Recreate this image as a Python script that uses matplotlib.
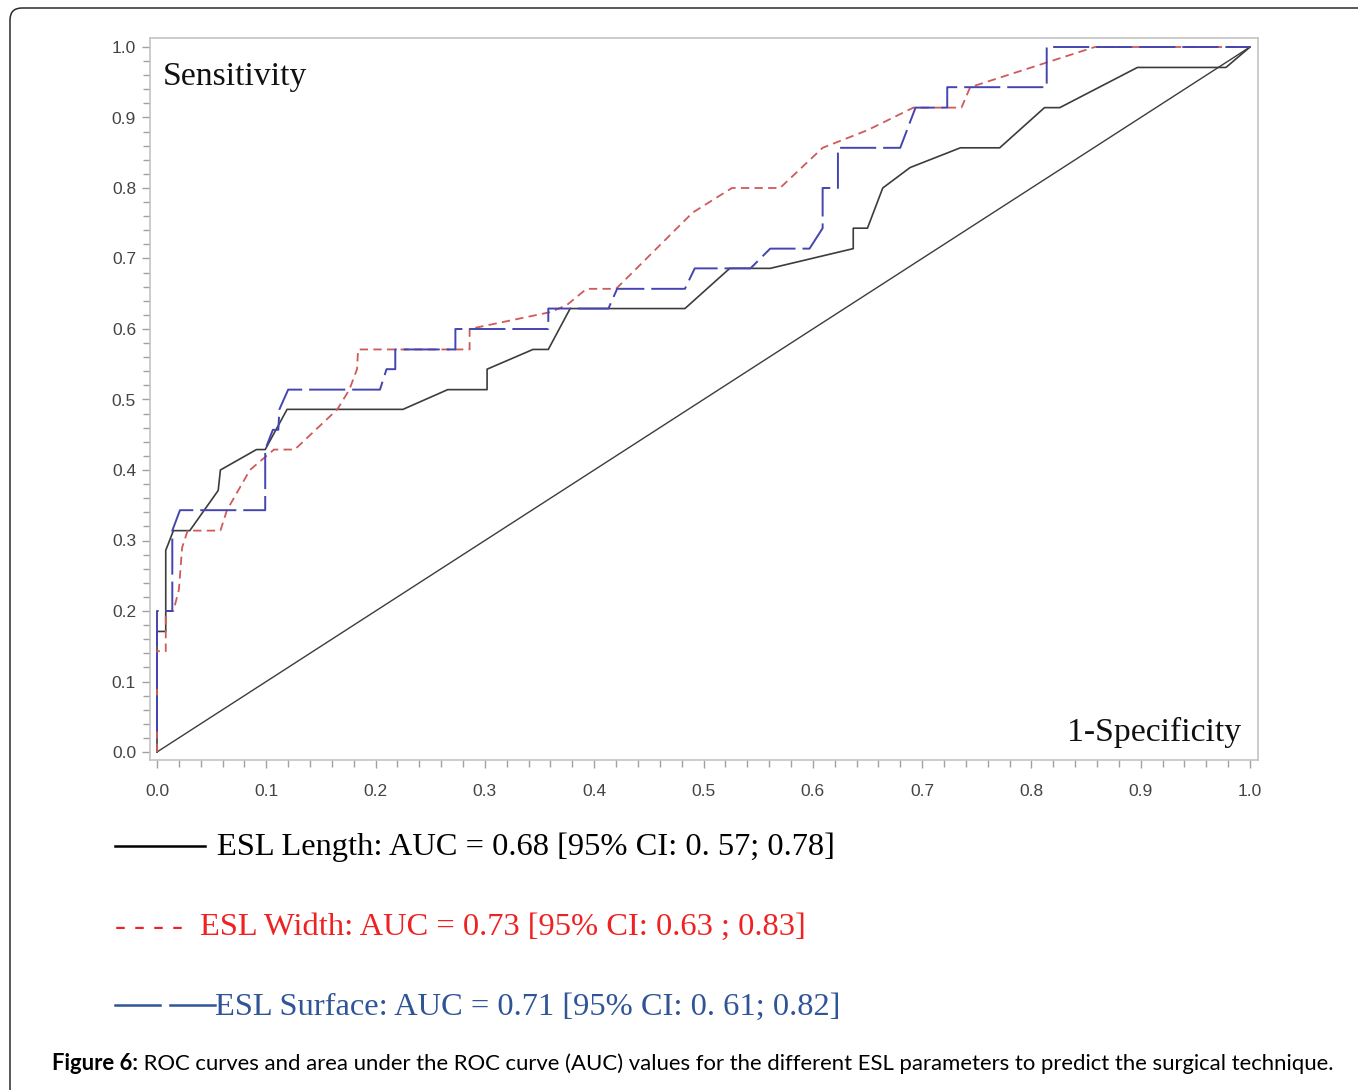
import matplotlib
matplotlib.use("Agg")
import matplotlib.pyplot as plt
from matplotlib.lines import Line2D
from matplotlib.patches import FancyBboxPatch
from matplotlib.ticker import MultipleLocator

# ROC points (1-specificity, sensitivity)
length_fpr = [0, 0, 0.008, 0.008, 0.015, 0.030, 0.056, 0.058, 0.091, 0.099, 0.119, 0.225,
              0.266, 0.302, 0.302, 0.344, 0.358, 0.378, 0.483, 0.524, 0.561, 0.637, 0.637,
              0.650, 0.664, 0.689, 0.735, 0.771, 0.812, 0.826, 0.897, 0.978, 1.0]
length_tpr = [0, 0.171, 0.171, 0.286, 0.314, 0.314, 0.371, 0.400, 0.429, 0.429, 0.486, 0.486,
              0.514, 0.514, 0.543, 0.571, 0.571, 0.629, 0.629, 0.686, 0.686, 0.714, 0.743,
              0.743, 0.800, 0.829, 0.857, 0.857, 0.914, 0.914, 0.971, 0.971, 1.0]

width_fpr = [0, 0, 0.008, 0.008, 0.015, 0.020, 0.023, 0.028, 0.058, 0.064, 0.085, 0.107,
             0.126, 0.165, 0.176, 0.183, 0.184, 0.286, 0.286, 0.360, 0.375, 0.393, 0.420,
             0.490, 0.526, 0.570, 0.609, 0.650, 0.692, 0.736, 0.744, 0.858, 1.0]
width_tpr = [0, 0.143, 0.143, 0.200, 0.200, 0.230, 0.290, 0.314, 0.314, 0.343, 0.400, 0.429,
             0.429, 0.486, 0.514, 0.543, 0.571, 0.571, 0.600, 0.624, 0.634, 0.657, 0.657,
             0.765, 0.800, 0.800, 0.857, 0.882, 0.914, 0.914, 0.943, 1.0, 1.0]

surface_fpr = [0, 0, 0.014, 0.014, 0.021, 0.099, 0.099, 0.106, 0.111, 0.112, 0.120, 0.204,
               0.210, 0.218, 0.218, 0.273, 0.273, 0.358, 0.358, 0.413, 0.421, 0.483, 0.492,
               0.543, 0.561, 0.597, 0.609, 0.609, 0.623, 0.623, 0.680, 0.694, 0.723, 0.723,
               0.814, 0.814, 1.0]
surface_tpr = [0.029, 0.200, 0.200, 0.314, 0.343, 0.343, 0.429, 0.457, 0.457, 0.486, 0.514, 0.514,
               0.543, 0.543, 0.571, 0.571, 0.600, 0.600, 0.629, 0.629, 0.657, 0.657, 0.686,
               0.686, 0.714, 0.714, 0.743, 0.800, 0.800, 0.857, 0.857, 0.914, 0.914, 0.943,
               0.943, 1.0, 1.0]

tick_vals = [0.0, 0.1, 0.2, 0.3, 0.4, 0.5, 0.6, 0.7, 0.8, 0.9, 1.0]

legend_texts = ["ESL Length: AUC = 0.68 [95% CI: 0. 57; 0.78]",
                "ESL Width: AUC = 0.73 [95% CI: 0.63 ; 0.83]",
                "ESL Surface: AUC = 0.71 [95% CI: 0. 61; 0.82]"]
caption_bold = "Figure 6:"
caption_rest = (" ROC curves and area under the ROC curve (AUC) values for the different "
                "ESL parameters to predict the surgical technique.")

W, H = 1358, 1090
plt.rcParams['lines.scale_dashes'] = False
fig = plt.figure(figsize=(W / 100, H / 100), dpi=100)

def fx(px):
    return px / W

def fy(py):
    return 1 - py / H

# outer rounded frame, open to the right and bottom
frame = FancyBboxPatch((10, -30), W + 60, H + 30 - 8, boxstyle="round,pad=0,rounding_size=12",
                       transform=None, fill=False, ec="#2b2b2b", lw=1.1)
fig.add_artist(frame)

ax = fig.add_axes([fx(150), fy(760), fx(1258) - fx(150), fy(38) - fy(760)])
ax.set_xlim(-7 / 1093, 1 + 8 / 1093)
ax.set_ylim(-8 / 705, 1 + 9 / 705)

ax.plot([0, 1], [0, 1], color="#3c3c3c", lw=1.0)
ax.plot(length_fpr, length_tpr, color="#3c3c3c", lw=1.2)
ax.plot(width_fpr, width_tpr, color="#cf5a5a", lw=1.3, dashes=(6, 3.8))
ax.plot(surface_fpr, surface_tpr, color="#4444b2", lw=1.4, dashes=(26, 5))

for s in ax.spines.values():
    s.set_color("#c4c4c4")
    s.set_linewidth(1.2)
ax.set_xticks(tick_vals)
ax.set_yticks(tick_vals)
ax.set_xticklabels([f"{v:.1f}" for v in tick_vals])
ax.set_yticklabels([f"{v:.1f}" for v in tick_vals])
ax.xaxis.set_minor_locator(MultipleLocator(0.02))
ax.yaxis.set_minor_locator(MultipleLocator(0.02))
ax.tick_params(which="both", direction="out", color="#a0a0a0", width=1.0)
ax.tick_params(which="major", length=6, labelsize=12.5, labelcolor="#444444", pad=11)
ax.tick_params(which="minor", length=5)
ax.tick_params(axis="y", which="major", pad=4)
for lab in ax.get_xticklabels() + ax.get_yticklabels():
    lab.set_family(["Liberation Sans", "DejaVu Sans"])

serif = ["Liberation Serif", "DejaVu Serif"]
ax.text(fx(163), fy(85), "Sensitivity", transform=fig.transFigure, family=serif,
        fontsize=24.2, color="#111111", va="baseline", ha="left")
ax.text(fx(1241), fy(741), "1-Specificity", transform=fig.transFigure, family=serif,
        fontsize=24.2, color="#111111", va="baseline", ha="right")

# legend block under the plot
fs = 23.4
fig.add_artist(Line2D([fx(115), fx(205)], [fy(846), fy(846)], color="black", lw=1.8))
fig.text(fx(217), fy(855), legend_texts[0], family=serif, fontsize=fs,
         color="black", va="baseline")

fig.text(fx(115), fy(935), "- - - -", family=serif, fontsize=fs, color="#ee2222", va="baseline")
fig.text(fx(200), fy(935), legend_texts[1], family=serif, fontsize=fs,
         color="#ee2222", va="baseline")

fig.add_artist(Line2D([fx(115), fx(160)], [fy(1005), fy(1005)], color="#2f5597", lw=1.8))
fig.add_artist(Line2D([fx(170), fx(215)], [fy(1005), fy(1005)], color="#2f5597", lw=1.8))
fig.text(fx(215), fy(1015), legend_texts[2], family=serif, fontsize=fs,
         color="#2f5597", va="baseline")

# caption, sized so it spans the same width as in the reference
sans = ["Lato", "DejaVu Sans"]
r = fig.canvas.get_renderer()
cap_fs = 14
probe1 = fig.text(0, 0, caption_bold, family=sans, fontsize=cap_fs, weight="bold")
probe2 = fig.text(0, 0, caption_rest, family=sans, fontsize=cap_fs)
wtot = probe1.get_window_extent(r).width + probe2.get_window_extent(r).width
probe1.remove()
probe2.remove()
cap_fs = cap_fs * (1337 - 52) / wtot

t1 = fig.text(fx(52), fy(1070), caption_bold, family=sans, fontsize=cap_fs, weight="bold",
              color="black", va="baseline")
x1 = t1.get_window_extent(r).x1
fig.text(x1 / W, fy(1070), caption_rest, family=sans, fontsize=cap_fs, color="black",
         va="baseline")

fig.savefig("out.png", dpi=100)
